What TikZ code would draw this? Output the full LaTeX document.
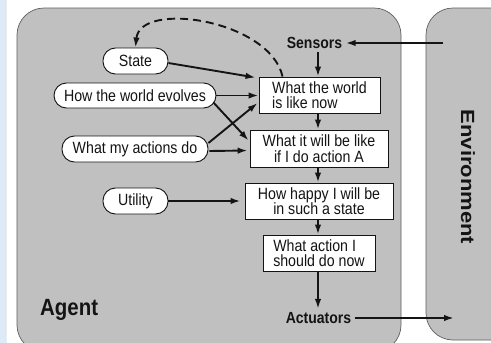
\documentclass[tikz,border=0pt]{standalone}
\usepackage{fontspec}
\setmainfont{Liberation Sans}[FakeStretch=0.87]
\newfontfamily\envfont{Liberation Sans}[FakeStretch=1.15]
\usetikzlibrary{arrows.meta,calc}
\definecolor{agentgray}{RGB}{192,192,192}
\definecolor{edgegray}{RGB}{95,95,95}
\definecolor{stripblue}{RGB}{222,234,247}
\definecolor{inkcol}{RGB}{20,20,20}
\tikzset{
  rbox/.style={draw=inkcol,line width=0.9pt,fill=white,inner sep=0pt,
    font=\fontsize{16.3}{15.5}\selectfont,text=inkcol},
  pill/.style={draw=inkcol,line width=0.9pt,fill=white,inner sep=0pt,
    rounded corners=12.5pt,font=\fontsize{16.3}{16}\selectfont,text=inkcol},
  boldlbl/.style={font=\bfseries\fontsize{16.1}{17}\selectfont,text=inkcol},
  conn/.style={line width=1.9pt,draw=inkcol,-{Latex[length=10pt,width=6.5pt]}},
  dashconn/.style={line width=1.9pt,draw=inkcol,dash pattern=on 8pt off 5pt,
    -{Latex[length=10pt,width=6.5pt]}}
}
\begin{document}
\begin{tikzpicture}[x=1pt,y=-1pt]
\useasboundingbox (0,0) rectangle (491,343);
\begin{scope}
\clip (0,0) rectangle (491,343);
\fill[white] (0,0) rectangle (491,343);
% light blue strip
\draw[fill=stripblue,draw=stripblue!80!gray,line width=0.5pt,rounded corners=12pt] (-30,-15) rectangle (6,400);
% agent and environment panels
\draw[fill=agentgray,draw=edgegray,line width=0.7pt,rounded corners=27pt] (17,8) rectangle (401,352);
\draw[fill=agentgray,draw=edgegray,line width=0.7pt,rounded corners=27pt] (426,8) rectangle (540,340);
\end{scope}

% labels
\node[font=\bfseries\fontsize{23.5}{25}\selectfont,text=inkcol,anchor=west,inner sep=0pt] (agent) at (40,310) {Agent};
\node[font=\envfont\bfseries\fontsize{19.1}{21}\selectfont,text=inkcol,rotate=-90] (env) at (468,177) {Environment};
\node[boldlbl] (sensors) at (314.5,43) {Sensors};
\node[boldlbl] (actuators) at (318.5,318) {Actuators};
\coordinate (envin) at (443,43);
\coordinate (envout) at (454,318);

% boxes
\node[rbox,minimum width=121pt,minimum height=36pt,align=left] (b1) at (319.5,95) {What the world\\is like now};
\node[rbox,minimum width=138pt,minimum height=37pt,align=center] (b2) at (319,148.5) {What it will be like\\if I do action A};
\node[rbox,minimum width=148pt,minimum height=36pt,align=center] (b3) at (319,201) {How happy I will be\\in such a state};
\node[rbox,minimum width=112pt,minimum height=36pt,align=left] (b4) at (319,253) {What action I\\should do now};

% pills
\node[pill,minimum width=65pt,minimum height=26pt] (state) at (135.5,61) {State};
\node[pill,minimum width=162pt,minimum height=25pt] (hwe) at (135,95.5) {How the world evolves};
\node[pill,minimum width=146pt,minimum height=26pt] (wmad) at (135,149) {What my actions do};
\node[pill,minimum width=65pt,minimum height=26pt] (util) at (135.5,201) {Utility};

% connectors
\draw[conn] (envin) -- (sensors.east);
\draw[conn] (sensors.south -| 318,0) -- (b1.north -| 318,0);
\draw[conn] (b1.south -| 318,0) -- (b2.north -| 318,0);
\draw[conn] (b2.south -| 318,0) -- (b3.north -| 318,0);
\draw[conn] (b3.south -| 318,0) -- (b4.north -| 318,0);
\draw[conn] (b4.south -| 318,0) -- (actuators.north -| 318,0);
\draw[conn] (actuators.east) -- (envout);

\draw[conn] ($(state.east)+(0,2)$) -- ($(b1.north west)+(-3,1)$);
\draw[conn] (hwe.east) -- (b1.west |- hwe.east);
\draw[conn] ($(hwe.east)+(-3,7)$) -- ($(b2.west)+(-1,-8)$);
\draw[conn] ($(wmad.east)+(0,-6)$) -- ($(b1.west)+(-1,8)$);
\draw[conn] ($(wmad.east)+(1,2)$) -- ($(b2.west)+(-2,2)$);
\draw[conn] (util.east) -- ($(b3.west)+(-4,0)$);

\draw[dashconn] ($(b1.north west)+(24,0)$) .. controls (270,20) and (140,0) .. (state.north);
\end{tikzpicture}
\end{document}
